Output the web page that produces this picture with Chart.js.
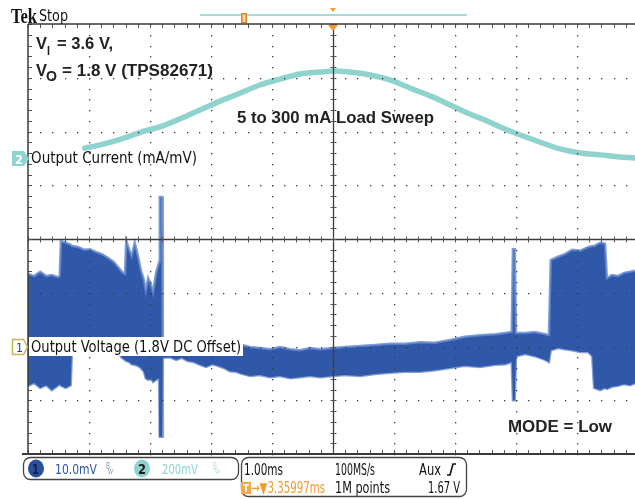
<!DOCTYPE html>
<html>
<head>
<meta charset="utf-8">
<script src="https://cdn.jsdelivr.net/npm/chart.js@4/dist/chart.umd.min.js"></script>
<style>
  html, body { margin: 0; padding: 0; background: #fff; width: 635px; height: 499px; overflow: hidden; }
  #scope { display: block; }
</style>
</head>
<body>
<canvas id="scope" width="660" height="499" style="width:660px;height:499px"></canvas>
<script>
// time base 1 ms/div, trigger at 0 ms
// ch1: output voltage ripple in mV around 1.8 V (10 mV/div), drawn as min/max envelope
const tV = [-5.00, -4.90, -4.80, -4.70, -4.61, -4.51, -4.48, -4.46, -4.38, -4.30, -4.28, -4.18, -4.08, -3.98, -3.89, -3.79, -3.69, -3.59, -3.51, -3.46, -3.41, -3.39, -3.34, -3.30, -3.25, -3.20, -3.15, -3.10, -3.07, -3.03, -2.98, -2.95, -2.90, -2.85, -2.84, -2.80, -2.79, -2.67, -2.57, -2.48, -2.38, -2.28, -2.18, -2.08, -1.98, -1.89, -1.79, -1.69, -1.59, -1.49, -1.36, -1.20, -1.03, -0.87, -0.70, -0.54, -0.38, -0.21, 0.00, 0.20, 0.44, 0.69, 0.93, 1.18, 1.43, 1.67, 1.92, 2.16, 2.41, 2.66, 2.82, 2.93, 2.95, 2.98, 3.00, 3.15, 3.31, 3.48, 3.54, 3.57, 3.69, 3.80, 3.92, 4.05, 4.18, 4.25, 4.28, 4.38, 4.46, 4.49, 4.57, 4.67, 4.77, 4.87, 5.00];
const vMax = [13.5, 13.1, 13.9, 13.1, 13.3, 12.9, 13.1, 19.6, 19.3, 18.9, 18.7, 18.5, 18.0, 18.1, 17.6, 17.2, 16.5, 15.7, 14.6, 13.9, 13.5, 19.6, 18.0, 16.8, 19.3, 17.0, 14.2, 12.4, 10.3, 12.7, 11.4, 10.1, 13.7, 15.7, 27.8, 27.8, 0.8, 0.8, 0.8, 0.8, 0.8, 0.8, 0.8, 0.8, 0.8, 0.7, 0.7, 0.5, 0.5, 0.3, -0.1, -0.3, -0.5, -0.1, -0.5, -0.7, -0.3, -0.5, -0.3, -0.1, 0.1, 0.3, 0.5, 0.5, 0.8, 0.7, 1.2, 1.8, 2.1, 2.3, 2.5, 2.7, 18.1, 18.1, 2.5, 2.5, 2.7, 2.3, 2.1, 16.1, 16.7, 17.2, 18.0, 17.8, 18.5, 18.7, 18.7, 19.3, 19.1, 12.7, 13.3, 13.1, 13.7, 13.9, 14.2];
const vMin = [-7.3, -6.8, -7.7, -7.2, -8.1, -7.3, -7.0, -7.3, -7.7, -7.2, -0.7, -0.7, -0.7, -0.7, -0.7, -0.7, -0.7, -1.0, -1.4, -2.1, -2.5, -2.7, -2.9, -3.3, -3.4, -3.6, -4.0, -4.7, -5.9, -6.2, -5.9, -6.6, -6.2, -5.9, -16.8, -16.8, -2.1, -2.0, -2.5, -2.1, -2.7, -2.9, -3.4, -3.8, -3.3, -3.6, -4.0, -4.6, -4.7, -5.1, -5.5, -5.3, -5.7, -5.5, -5.9, -5.7, -5.5, -5.7, -5.5, -5.3, -5.5, -5.1, -4.9, -4.7, -4.7, -4.4, -4.0, -3.6, -3.8, -3.4, -3.3, -2.9, -10.0, -10.0, -1.8, -1.4, -1.8, -2.5, -2.9, -0.7, -0.3, -0.5, -0.7, -1.0, -1.0, -1.8, -7.7, -8.1, -7.7, -7.9, -7.5, -7.3, -7.0, -7.2, -6.6];

// ch2: load current sweep in mA (1 mA/mV probe)
const tI = [-4.07, -3.82, -3.57, -3.33, -3.08, -2.84, -2.51, -2.18, -1.85, -1.52, -1.20, -0.87, -0.54, -0.21, 0.00, 0.28, 0.61, 0.93, 1.26, 1.64, 1.92, 2.20, 2.49, 2.74, 3.07, 3.39, 3.72, 4.05, 4.38, 4.70, 5.00];
const iLoad = [38, 50, 65, 83, 102, 117, 147, 180, 213, 243, 273, 295, 314, 321, 325, 321, 310, 292, 262, 228, 199, 169, 143, 117, 87, 61, 35, 20, 13, 5, 1];

const BLUE = '#3058a8';
const CYAN = '#8fd3ce';
const ORANGE = '#f29a2e';
const UI_FONT = '"DejaVu Sans Condensed", "Liberation Sans Narrow", "DejaVu Sans", sans-serif';
const BOLD_FONT = 'bold 17px "Liberation Sans", Arial, sans-serif';
const LABEL_FONT = 'bold 16px "Liberation Sans", Arial, sans-serif';

// draw text squeezed/stretched to a given width
function fitText(ctx, str, x, y, w, font, color) {
  ctx.font = font;
  ctx.fillStyle = color;
  ctx.textAlign = 'left';
  ctx.textBaseline = 'alphabetic';
  const m = ctx.measureText(str).width;
  ctx.save();
  ctx.translate(x, y);
  ctx.scale(w / m, 1);
  ctx.fillText(str, 0, 0);
  ctx.restore();
}

function roundBox(ctx, x, y, w, h, r) {
  ctx.beginPath();
  ctx.moveTo(x + r, y);
  ctx.arcTo(x + w, y, x + w, y + h, r);
  ctx.arcTo(x + w, y + h, x, y + h, r);
  ctx.arcTo(x, y + h, x, y, r);
  ctx.arcTo(x, y, x + w, y, r);
  ctx.closePath();
  ctx.stroke();
}

// scope graticule: dotted divisions, center cross with minor ticks, frame
const graticule = {
  id: 'graticule',
  afterDatasetsDraw(chart) {
    const { ctx, chartArea: a, scales: { x, yV } } = chart;
    ctx.save();
    ctx.fillStyle = '#3a3a3a';
    for (let d = -4; d <= 5; d++) {
      if (d === 0) continue;
      const px = Math.round(x.getPixelForValue(d));
      for (let k = 0; k <= 40; k++) {
        const py = Math.round(yV.getPixelForValue(-20 + 2 * k));
        ctx.fillRect(px, py, 1.3, 1.3);
      }
    }
    for (const v of [-10, 0, 10, 30, 40, 50]) {
      const py = Math.round(yV.getPixelForValue(v));
      for (let k = 0; k <= 50; k++) {
        const px = Math.round(x.getPixelForValue(-5 + 0.2 * k));
        ctx.fillRect(px, py, 1.3, 1.3);
      }
    }
    const cx = Math.round(x.getPixelForValue(0)) + 0.5;
    const cy = Math.round(yV.getPixelForValue(20)) + 0.5;
    ctx.strokeStyle = '#3c3c3c';
    ctx.lineWidth = 1.3;
    ctx.beginPath();
    ctx.moveTo(a.left, cy); ctx.lineTo(a.right, cy);
    ctx.moveTo(cx, a.top); ctx.lineTo(cx, a.bottom);
    ctx.stroke();
    ctx.lineWidth = 1;
    ctx.strokeStyle = '#555';
    ctx.beginPath();
    for (let k = 0; k <= 50; k++) {
      const px = Math.round(x.getPixelForValue(-5 + 0.2 * k)) + 0.5;
      ctx.moveTo(px, cy - 3); ctx.lineTo(px, cy + 3);
      ctx.moveTo(px, a.top); ctx.lineTo(px, a.top + 4);
      ctx.moveTo(px, a.bottom - 4); ctx.lineTo(px, a.bottom);
    }
    for (let k = 0; k <= 40; k++) {
      const py = Math.round(yV.getPixelForValue(-20 + 2 * k)) + 0.5;
      ctx.moveTo(cx - 3, py); ctx.lineTo(cx + 3, py);
      ctx.moveTo(a.left, py); ctx.lineTo(a.left + 4, py);
    }
    ctx.stroke();
    ctx.strokeStyle = '#3a3a3a';
    ctx.lineWidth = 1.5;
    ctx.beginPath();
    ctx.moveTo(a.left, a.top); ctx.lineTo(a.right, a.top);
    ctx.moveTo(a.left, a.top); ctx.lineTo(a.left, a.bottom);
    ctx.stroke();
    ctx.lineWidth = 2.2;
    ctx.beginPath();
    ctx.moveTo(a.left - 6, a.bottom); ctx.lineTo(a.right, a.bottom);
    ctx.stroke();
    ctx.restore();
  }
};

// readouts, channel markers and annotations
const readouts = {
  id: 'readouts',
  afterDraw(chart) {
    const ctx = chart.ctx;
    ctx.save();

    // header
    fitText(ctx, 'Tek', 11, 23, 26, 'bold 21px "Liberation Serif", serif', '#111');
    fitText(ctx, 'Stop', 39, 21, 29, '16px ' + UI_FONT, '#111');
    ctx.strokeStyle = '#a6dcd8';
    ctx.lineWidth = 2;
    ctx.beginPath(); ctx.moveTo(200, 15); ctx.lineTo(467, 15); ctx.stroke();
    ctx.fillStyle = '#f5a84a';
    ctx.strokeStyle = '#d9862a';
    ctx.lineWidth = 1;
    ctx.fillRect(241, 13, 6, 10);
    ctx.strokeRect(241.5, 13.5, 5, 9);
    ctx.strokeStyle = '#fff';
    ctx.beginPath(); ctx.moveTo(244, 15); ctx.lineTo(244, 22); ctx.stroke();
    ctx.fillStyle = ORANGE;
    ctx.beginPath(); ctx.moveTo(330, 8); ctx.lineTo(336, 8); ctx.lineTo(333, 12); ctx.closePath(); ctx.fill();
    ctx.beginPath(); ctx.moveTo(328, 25); ctx.lineTo(338, 25); ctx.lineTo(333, 31); ctx.closePath(); ctx.fill();

    // annotations
    fitText(ctx, 'V', 36, 49, 11, LABEL_FONT, '#222');
    fitText(ctx, 'I', 47, 55, 3, 'bold 13px "Liberation Sans", Arial, sans-serif', '#222');
    fitText(ctx, '= 3.6 V,', 57, 49, 56, LABEL_FONT, '#222');
    fitText(ctx, 'V', 36, 76, 11, LABEL_FONT, '#222');
    fitText(ctx, 'O', 46, 81, 11, 'bold 14px "Liberation Sans", Arial, sans-serif', '#222');
    fitText(ctx, '= 1.8 V (TPS82671)', 62, 76, 151, LABEL_FONT, '#222');
    fitText(ctx, '5 to 300 mA Load Sweep', 237, 123, 197, BOLD_FONT, '#222');
    fitText(ctx, 'MODE = Low', 508, 432, 104, BOLD_FONT, '#222');

    // channel 2 marker and label
    ctx.fillStyle = CYAN;
    ctx.beginPath();
    ctx.moveTo(12, 151); ctx.lineTo(24, 151); ctx.lineTo(29, 158.5); ctx.lineTo(24, 166); ctx.lineTo(12, 166);
    ctx.closePath(); ctx.fill();
    fitText(ctx, '2', 15, 164, 8, 'bold 13px ' + UI_FONT, '#fff');
    fitText(ctx, 'Output Current (mA/mV)', 31, 163, 166, '15px ' + UI_FONT, '#111');

    // channel 1 marker and label
    ctx.fillStyle = '#fff';
    ctx.fillRect(29, 337, 214, 19);
    ctx.strokeStyle = '#c9b45c';
    ctx.lineWidth = 1.5;
    ctx.beginPath();
    ctx.moveTo(12.5, 339.5); ctx.lineTo(23.5, 339.5); ctx.lineTo(27.5, 347); ctx.lineTo(23.5, 354.5); ctx.lineTo(12.5, 354.5);
    ctx.closePath(); ctx.stroke();
    fitText(ctx, '1', 16, 352, 7, '13px ' + UI_FONT, '#2b3f7a');
    fitText(ctx, 'Output Voltage (1.8V DC Offset)', 31, 352, 210, '15px ' + UI_FONT, '#111');

    // vertical settings box
    ctx.strokeStyle = '#444';
    ctx.lineWidth = 1.3;
    roundBox(ctx, 23.5, 457.5, 215, 22, 7);
    ctx.fillStyle = '#2c4f9d';
    ctx.beginPath(); ctx.ellipse(36, 468.5, 8, 9, 0, 0, Math.PI * 2); ctx.fill();
    fitText(ctx, '1', 32, 474, 7, 'bold 14px ' + UI_FONT, '#0f1f45');
    fitText(ctx, '10.0mV', 55, 474, 42, '14px ' + UI_FONT, '#2f57a5');
    fitText(ctx, 'B', 106, 469, 4, '8px ' + UI_FONT, '#7d93c4');
    fitText(ctx, 'W', 108, 474, 5, '7px ' + UI_FONT, '#7d93c4');
    ctx.fillStyle = CYAN;
    ctx.beginPath(); ctx.ellipse(142, 468.5, 8, 9, 0, 0, Math.PI * 2); ctx.fill();
    fitText(ctx, '2', 138, 474, 8, 'bold 14px ' + UI_FONT, '#1d1d1d');
    fitText(ctx, '200mV', 162, 474, 36, '14px ' + UI_FONT, CYAN);
    fitText(ctx, 'B', 213, 469, 4, '8px ' + UI_FONT, '#b0dcd8');
    fitText(ctx, 'W', 215, 474, 5, '7px ' + UI_FONT, '#b0dcd8');

    // horizontal / trigger box
    roundBox(ctx, 241.5, 457.5, 225, 39, 7);
    fitText(ctx, '1.00ms', 244, 475, 39, '15px ' + UI_FONT, '#111');
    fitText(ctx, '100MS/s', 335, 475, 40, '15px ' + UI_FONT, '#111');
    fitText(ctx, 'Aux', 419, 475, 22, '15px ' + UI_FONT, '#111');
    ctx.strokeStyle = '#111';
    ctx.lineWidth = 1.6;
    ctx.beginPath(); ctx.moveTo(447, 475); ctx.lineTo(450, 475); ctx.lineTo(453, 464); ctx.lineTo(456, 464); ctx.stroke();
    ctx.fillStyle = '#f5a84a';
    ctx.fillRect(241, 482, 10, 12);
    fitText(ctx, 'T', 243, 492, 6, 'bold 11px ' + UI_FONT, '#fff');
    fitText(ctx, '\u2192\u25BC3.35997ms', 251, 493, 74, '15px ' + UI_FONT, ORANGE);
    fitText(ctx, '1M points', 335, 493, 55, '15px ' + UI_FONT, '#111');
    fitText(ctx, '1.67 V', 428, 493, 32, '15px ' + UI_FONT, '#111');

    ctx.restore();
  }
};

new Chart(document.getElementById('scope'), {
  type: 'line',
  data: {
    datasets: [
      {
        label: 'Output Voltage max',
        data: tV.map((t, i) => ({ x: t, y: vMax[i] })),
        yAxisID: 'yV',
        borderColor: 'rgba(100,135,205,0.8)',
        borderWidth: 2.5,
        backgroundColor: BLUE,
        fill: '+1',
        pointRadius: 0,
        tension: 0
      },
      {
        label: 'Output Voltage min',
        data: tV.map((t, i) => ({ x: t, y: vMin[i] })),
        yAxisID: 'yV',
        borderColor: 'rgba(100,135,205,0.8)',
        borderWidth: 2.5,
        fill: false,
        pointRadius: 0,
        tension: 0
      },
      {
        label: 'Output Current',
        data: tI.map((t, i) => ({ x: t, y: iLoad[i] })),
        yAxisID: 'yI',
        borderColor: CYAN,
        borderWidth: 5.5,
        borderCapStyle: 'round',
        fill: false,
        pointRadius: 0,
        cubicInterpolationMode: 'monotone'
      }
    ]
  },
  options: {
    responsive: false,
    maintainAspectRatio: false,
    devicePixelRatio: 1,
    animation: false,
    layout: { padding: { left: 28, top: 24, right: 22, bottom: 45 } },
    scales: {
      x: { type: 'linear', min: -5, max: 5, display: false },
      yV: { type: 'linear', min: -20, max: 60, display: false },
      yI: { type: 'linear', min: -1100, max: 500, display: false }
    },
    plugins: {
      legend: { display: false },
      tooltip: { enabled: false }
    }
  },
  plugins: [graticule, readouts]
});
</script>
</body>
</html>
